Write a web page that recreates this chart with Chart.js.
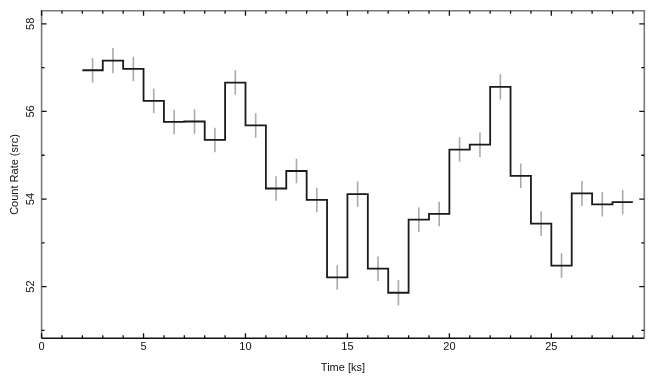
<!DOCTYPE html>
<html>
<head>
<meta charset="utf-8">
<script src="https://cdn.jsdelivr.net/npm/chart.js@4.4.1/dist/chart.umd.min.js"></script>
<style>
  body { margin: 0; background: #fff; }
  #wrap { width: 655px; height: 385px; }
</style>
</head>
<body>
<div id="wrap"><canvas id="lc" width="655" height="385"></canvas></div>
<script>
// light curve bins (centre of each 1 ks bin) and count rates
const binCenters = [2.5, 3.5, 4.5, 5.5, 6.5, 7.5, 8.5, 9.5, 10.5, 11.5, 12.5, 13.5, 14.5, 15.5,
  16.5, 17.5, 18.5, 19.5, 20.5, 21.5, 22.5, 23.5, 24.5, 25.5, 26.5, 27.5, 28.5];
const binHalf = 0.5;
const rates = [56.94, 57.16, 56.97, 56.24, 55.76, 55.77, 55.35, 56.66, 55.68, 54.24, 54.64, 53.98,
  52.21, 54.11, 52.41, 51.86, 53.53, 53.66, 55.13, 55.24, 56.56, 54.53, 53.44, 52.48, 54.13, 53.88, 53.93];
const rateErr = [0.28, 0.29, 0.28, 0.28, 0.28, 0.28, 0.28, 0.28, 0.28, 0.28, 0.28, 0.28,
  0.28, 0.29, 0.28, 0.29, 0.28, 0.28, 0.28, 0.28, 0.29, 0.28, 0.28, 0.28, 0.29, 0.28, 0.28];

const xMajor = [0, 5, 10, 15, 20, 25];
const xMinor = [1, 2, 3, 4, 6, 7, 8, 9, 11, 12, 13, 14, 16, 17, 18, 19, 21, 22, 23, 24, 26, 27, 28, 29];
const yMajor = [52, 54, 56, 58];
const yMinor = [51, 53, 55, 57];

const FONT = '11px "Liberation Sans", Arial, sans-serif';

// step outline: left edge of every bin plus the right edge of the last one
const stepPts = binCenters.map((c, i) => ({ x: c - binHalf, y: rates[i] }));
stepPts.push({ x: binCenters[binCenters.length - 1] + binHalf, y: rates[rates.length - 1] });

const errorBars = {
  id: 'errorBars',
  beforeDatasetsDraw(chart) {
    const { ctx, scales: { x, y } } = chart;
    ctx.save();
    ctx.strokeStyle = '#aaaaaa';
    ctx.lineWidth = 1.6;
    binCenters.forEach((c, i) => {
      const px = x.getPixelForValue(c);
      ctx.beginPath();
      ctx.moveTo(px, y.getPixelForValue(rates[i] - rateErr[i]));
      ctx.lineTo(px, y.getPixelForValue(rates[i] + rateErr[i]));
      ctx.stroke();
    });
    ctx.restore();
  }
};

const frame = {
  id: 'frame',
  afterDraw(chart) {
    const { ctx, chartArea: a, scales: { x, y } } = chart;
    ctx.save();
    // box
    ctx.lineWidth = 1.6;
    ctx.strokeStyle = '#7a7a7a';
    ctx.beginPath();
    ctx.moveTo(a.left, a.bottom);
    ctx.lineTo(a.left, a.top);
    ctx.lineTo(a.right, a.top);
    ctx.lineTo(a.right, a.bottom);
    ctx.stroke();
    ctx.strokeStyle = '#111';
    ctx.beginPath();
    ctx.moveTo(a.left, a.bottom);
    ctx.lineTo(a.right, a.bottom);
    ctx.stroke();

    // inward ticks on all sides
    ctx.strokeStyle = '#111';
    ctx.lineWidth = 1.3;
    const xt = (v, len) => {
      const p = x.getPixelForValue(v);
      ctx.beginPath();
      ctx.moveTo(p, a.bottom); ctx.lineTo(p, a.bottom - len);
      ctx.moveTo(p, a.top); ctx.lineTo(p, a.top + len);
      ctx.stroke();
    };
    const yt = (v, len) => {
      const p = y.getPixelForValue(v);
      ctx.beginPath();
      ctx.moveTo(a.left, p); ctx.lineTo(a.left + len, p);
      ctx.moveTo(a.right, p); ctx.lineTo(a.right - len, p);
      ctx.stroke();
    };
    xMajor.forEach(v => xt(v, 5));
    xMinor.forEach(v => xt(v, 3));
    yMajor.forEach(v => yt(v, 5));
    yMinor.forEach(v => yt(v, 3));

    // labels
    ctx.fillStyle = '#111';
    ctx.font = FONT;
    ctx.textAlign = 'center';
    ctx.textBaseline = 'middle';
    xMajor.forEach(v => ctx.fillText(String(v), x.getPixelForValue(v), 347));
    ctx.fillText('Time [ks]', (a.left + a.right) / 2, 368);

    yMajor.forEach(v => {
      ctx.save();
      ctx.translate(31, y.getPixelForValue(v));
      ctx.rotate(-Math.PI / 2);
      ctx.fillText(String(v), 0, 0);
      ctx.restore();
    });
    ctx.save();
    ctx.translate(15, (a.top + a.bottom) / 2);
    ctx.rotate(-Math.PI / 2);
    ctx.fillText('Count Rate (src)', 0, 0);
    ctx.restore();
    ctx.restore();
  }
};

new Chart(document.getElementById('lc'), {
  type: 'line',
  data: {
    datasets: [{
      data: stepPts,
      stepped: true,
      borderColor: '#1a1a1a',
      borderWidth: 1.8,
      pointRadius: 0,
      fill: false
    }]
  },
  options: {
    responsive: false,
    animation: false,
    layout: { padding: { left: 41.6, right: 10.7, top: 10.7, bottom: 46.7 } },
    plugins: { legend: { display: false }, tooltip: { enabled: false } },
    scales: {
      x: { type: 'linear', min: 0, max: 29.56, display: false },
      y: { type: 'linear', min: 50.82, max: 58.30, display: false }
    }
  },
  plugins: [errorBars, frame]
});
</script>
</body>
</html>
